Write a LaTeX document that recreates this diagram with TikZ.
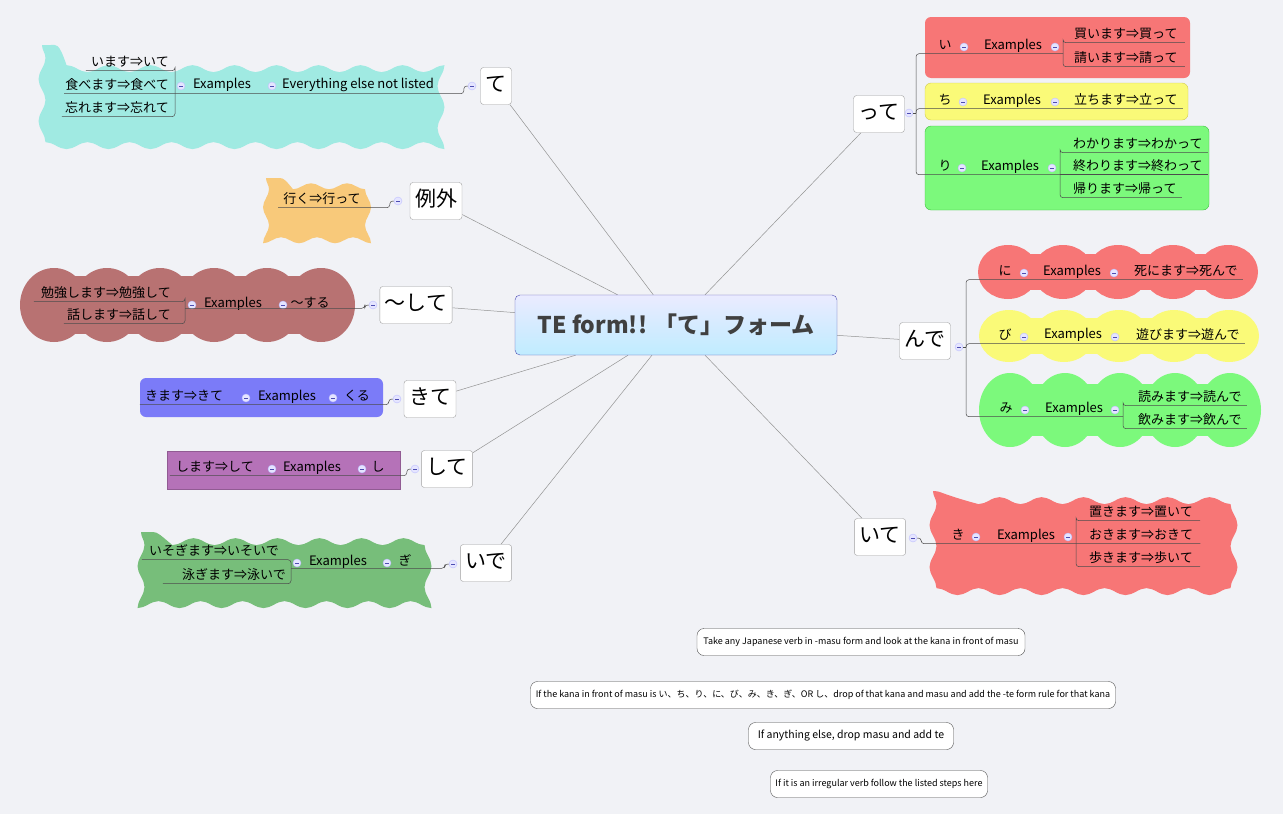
\documentclass[tikz,border=0pt]{standalone}
\usepackage{fontspec}
\setmainfont{Noto Sans CJK JP}
\usetikzlibrary{positioning,backgrounds,decorations.pathmorphing,calc}
\definecolor{pagebg}{RGB}{241,242,246}
\definecolor{cyanbg}{RGB}{160,234,226}
\definecolor{orangebg}{RGB}{248,201,122}
\definecolor{brownbg}{RGB}{184,114,114}
\definecolor{bluebg}{RGB}{123,123,248}
\definecolor{purplebg}{RGB}{181,114,184}
\definecolor{dgreenbg}{RGB}{119,190,122}
\definecolor{redbg}{RGB}{247,118,118}
\definecolor{yellowbg}{RGB}{250,250,120}
\definecolor{lgreenbg}{RGB}{124,249,124}
\tikzset{
  leaf/.style={font=\fontsize{13}{15}\selectfont, inner sep=1pt, text height=10pt, text depth=3pt},
  branch/.style={draw=gray!75, rounded corners=3pt, fill=white, font=\fontsize{21}{24}\selectfont,
    inner xsep=5pt, inner ysep=3pt, minimum height=37pt, text height=15pt, text depth=4pt},
  fold/.style={circle, draw=blue!25, fill=blue!10, minimum size=8pt, inner sep=0pt,
    path picture={\draw[blue!40!gray] ([xshift=-2pt]path picture bounding box.center) -- ([xshift=2pt]path picture bounding box.center);}},
  uline/.style={draw=gray!60!black, line width=0.5pt, rounded corners=3pt},
  spoke/.style={draw=gray!85, line width=0.5pt},
  note/.style={draw=gray!60!black, rounded corners=7pt, fill=white, minimum height=27pt, inner sep=3pt},
  wavy/.style={decorate, decoration={snake, segment length=42pt, amplitude=3.5pt}}
}
\begin{document}
\begin{tikzpicture}[x=1pt,y=-1pt]
\useasboundingbox (0,0) rectangle (1283,814);

% backgrounds of the topics
\fill[cyanbg, wavy] (42,45) rectangle (449,128);
\fill[orangebg, decorate, decoration={snake, segment length=36pt, amplitude=3pt}] (266,178) rectangle (380,226);
\fill[brownbg] (54,276) rectangle (321,334);
\foreach \cx in {54,107,160,214,267,321} \fill[brownbg] (\cx,305) ellipse (34 and 37);
\fill[bluebg, rounded corners=6pt] (140,378) rectangle (383,417);
\fill[purplebg, draw=purplebg!80!black] (167,451) rectangle (400,489);
\fill[dgreenbg, wavy] (141,532) rectangle (430,598);
\fill[redbg, rounded corners=6pt] (925,17) rectangle (1190,78);
\fill[yellowbg, draw=yellow!60!gray, rounded corners=6pt] (925,83) rectangle (1188,120);
\fill[lgreenbg, draw=green!50!gray, rounded corners=6pt] (925,126) rectangle (1209,210);
\fill[redbg] (1008,254) rectangle (1228,290);
\fill[yellowbg] (1009,318) rectangle (1230,354);
\fill[lgreenbg] (1010,384) rectangle (1232,436);
\foreach \cx in {1008,1063,1118,1173,1228} {
  \fill[redbg] (\cx,272) ellipse (30 and 27);
  \fill[yellowbg] ([xshift=1pt]\cx,336) ellipse (30 and 26);
  \fill[lgreenbg] ([xshift=2pt]\cx,410) ellipse (31 and 37);
}
\fill[redbg, wavy] (933,491) rectangle (1212,583);

% centre and branches
\node[draw=blue!40!gray, rounded corners=5pt, top color=blue!8, bottom color=blue!30!cyan!25,
  minimum width=322pt, minimum height=60pt, font=\fontsize{23}{26}\selectfont\bfseries,
  text=black!75] (centre) at (676,325) {TE form!! 「て」フォーム};
\node[branch] (te) at (496,86) {て};
\node[branch] (reigai) at (436,201) {例外};
\node[branch] (shite1) at (416,305) {～して};
\node[branch] (kite) at (430,399) {きて};
\node[branch] (shite2) at (447,469) {して};
\node[branch] (ide) at (486,563) {いで};
\node[branch] (tte) at (879,114) {って};
\node[branch] (nde) at (925,341) {んで};
\node[branch] (ite) at (880,537) {いて};

\begin{scope}[on background layer]
  \fill[pagebg] (0,0) rectangle (1283,814);
  \foreach \b in {te,reigai,shite1,kite,shite2,ide,tte,nde,ite}
    \draw[spoke] (centre) -- (\b);
\end{scope}

% て
\node[fold] (teF) at (472,86) {};
\node[leaf] (teRule) at (358,85) {Everything else not listed};
\node[fold] (teF1) at (272,86) {};
\node[leaf] (teEx) at (222,85) {Examples};
\node[fold] (teF2) at (181,86) {};
\node[leaf, anchor=east] (teA) at (170,63) {います⇒いて};
\node[leaf, anchor=east] (teB) at (170,86) {食べます⇒食べて};
\node[leaf, anchor=east] (teC) at (170,109) {忘れます⇒忘れて};
\draw[uline] (teF.west) -- ++(-4,0) |- (teB.south west);
\draw[uline] ([xshift=-4pt]teA.south west) -| ([xshift=5pt]teA.south east) |- ([xshift=-2pt]teC.south west);

% 例外
\node[fold] (reigaiF) at (398,201) {};
\node[leaf] (iku) at (322,200) {行く⇒行って};
\draw[uline] (reigaiF.west) -- ++(-4,0) |- ([xshift=-4pt]iku.south west);

% ～して
\node[fold] (shite1F) at (373,305) {};
\node[leaf] (suru) at (310,304) {～する};
\node[fold] (shite1F1) at (283,305) {};
\node[leaf] (shite1Ex) at (233,304) {Examples};
\node[fold] (shite1F2) at (192,305) {};
\node[leaf, anchor=east] (shite1A) at (172,294) {勉強します⇒勉強して};
\node[leaf, anchor=east] (shite1B) at (172,316) {話します⇒話して};
\draw[uline] (shite1F.west) -- ++(-4,0) |- ([xshift=13pt]shite1B.north east);
\draw[uline] ([xshift=-6pt]shite1A.south west) -| ([xshift=13pt]shite1A.south east) |- ([xshift=-2pt]shite1B.south west);

% きて
\node[fold] (kiteF) at (397,399) {};
\node[leaf] (kuru) at (357,397) {くる};
\node[fold] (kiteF1) at (333,398) {};
\node[leaf] (kiteEx) at (287,397) {Examples};
\node[fold] (kiteF2) at (246,398) {};
\node[leaf] (kimasu) at (184,397) {きます⇒きて};
\draw[uline] (kiteF.west) -- ++(-4,0) |- ([xshift=-4pt]kimasu.south west);

% して
\node[fold] (shite2F) at (415,469) {};
\node[leaf] (shi) at (378,468) {し};
\node[fold] (shite2F1) at (362,469) {};
\node[leaf] (shite2Ex) at (312,468) {Examples};
\node[fold] (shite2F2) at (272,469) {};
\node[leaf] (shimasu) at (215,468) {します⇒して};
\draw[uline] (shite2F.west) -- ++(-4,0) |- ([xshift=-5pt]shimasu.south west);

% いで
\node[fold] (ideF) at (453,564) {};
\node[leaf] (gi) at (405,562) {ぎ};
\node[fold] (ideF1) at (387,563) {};
\node[leaf] (ideEx) at (338,562) {Examples};
\node[fold] (ideF2) at (297,563) {};
\node[leaf, anchor=east] (ideA) at (280,552) {いそぎます⇒いそいで};
\node[leaf, anchor=east] (ideB) at (287,576) {泳ぎます⇒泳いで};
\draw[uline] (ideF.west) -- ++(-4,0) |- ([xshift=4pt]ideB.north east);
\draw[uline] ([xshift=-6pt]ideA.south west) -| ([xshift=4pt]ideB.south east) -- ([xshift=-18pt]ideB.south west);

% って
\node[fold] (tteF) at (909,113) {};
\coordinate (tteB) at (916,113);
\node[leaf] (tteI) at (945,46) {い};
\node[fold] at (964,47) {};
\node[leaf] (tteIEx) at (1013,46) {Examples};
\node[fold] at (1055,47) {};
\node[leaf, anchor=west] (tteIa) at (1073,35) {買います⇒買って};
\node[leaf, anchor=west] (tteIb) at (1073,59) {請います⇒請って};
\node[leaf] (tteC) at (945,101) {ち};
\node[fold] at (963,102) {};
\node[leaf] (tteCEx) at (1012,101) {Examples};
\node[fold] at (1055,102) {};
\node[leaf, anchor=west] (tteCa) at (1073,101) {立ちます⇒立って};
\node[leaf] (tteR) at (945,167) {り};
\node[fold] at (962,168) {};
\node[leaf] (tteREx) at (1010,167) {Examples};
\node[fold] at (1052,168) {};
\node[leaf, anchor=west] (tteRa) at (1072,145) {わかります⇒わかって};
\node[leaf, anchor=west] (tteRb) at (1072,167) {終わります⇒終わって};
\node[leaf, anchor=west] (tteRc) at (1072,190) {帰ります⇒帰って};
\draw[uline] (tteF.east) -- (tteB);
\draw[uline] (tteB) |- ([xshift=-10pt]tteIa.west |- tteIEx.south);
\draw[uline] (tteB) |- ([xshift=4pt]tteCa.south east);
\draw[uline] (tteB) |- ([xshift=-12pt]tteRa.west |- tteREx.south);
\draw[uline] ([xshift=6pt]tteIa.south east) -| ([xshift=-10pt]tteIa.south west) |- ([xshift=6pt]tteIb.south east);
\draw[uline] ([xshift=4pt]tteRa.south east) -| ([xshift=-12pt]tteRa.south west) |- ([xshift=4pt]tteRc.south east);
\draw[uline] ([xshift=-12pt]tteRb.south west) -- ([xshift=4pt]tteRb.south east);

% んで
\node[fold] (ndeF) at (959,347) {};
\coordinate (ndeB) at (966,347);
\node[leaf] (ndeN) at (1005,272) {に};
\node[fold] at (1024,273) {};
\node[leaf] (ndeNEx) at (1072,272) {Examples};
\node[fold] at (1114,273) {};
\node[leaf, anchor=west] (ndeNa) at (1133,272) {死にます⇒死んで};
\node[leaf] (ndeB2) at (1005,336) {び};
\node[fold] at (1024,337) {};
\node[leaf] (ndeBEx) at (1073,335) {Examples};
\node[fold] at (1115,337) {};
\node[leaf, anchor=west] (ndeBa) at (1135,336) {遊びます⇒遊んで};
\node[leaf] (ndeM) at (1006,409) {み};
\node[fold] at (1025,410) {};
\node[leaf] (ndeMEx) at (1074,409) {Examples};
\node[fold] at (1115,410) {};
\node[leaf, anchor=west] (ndeMa) at (1137,398) {読みます⇒読んで};
\node[leaf, anchor=west] (ndeMb) at (1137,421) {飲みます⇒飲んで};
\draw[uline] (ndeF.east) -- (ndeB);
\draw[uline] (ndeB) |- ([xshift=4pt]ndeNa.south east);
\draw[uline] (ndeB) |- ([xshift=4pt]ndeBa.south east);
\draw[uline] (ndeB) |- ([xshift=-14pt]ndeMa.west |- ndeMEx.south);
\draw[uline] ([xshift=4pt]ndeMa.south east) -| ([xshift=-14pt]ndeMa.south west) |- ([xshift=4pt]ndeMb.south east);

% いて
\node[fold] (iteF) at (913,538) {};
\node[leaf] (iteK) at (958,536) {き};
\node[fold] at (976,537) {};
\node[leaf] (iteEx) at (1026,536) {Examples};
\node[fold] at (1068,537) {};
\node[leaf, anchor=west] (iteA) at (1088,513) {置きます⇒置いて};
\node[leaf, anchor=west] (iteB) at (1088,536) {おきます⇒おきて};
\node[leaf, anchor=west] (iteC) at (1088,559) {歩きます⇒歩いて};
\draw[uline] (iteF.east) -- ++(4,0) |- ([xshift=6pt]iteB.south east);
\draw[uline] ([xshift=6pt]iteA.south east) -| ([xshift=-12pt]iteA.south west) |- ([xshift=6pt]iteC.south east);

% notes
\node[note, minimum width=328pt, font=\fontsize{9}{11}\selectfont] (step1) at (861,642)
  {Take any Japanese verb in -masu form and look at the kana in front of masu};
\node[note, minimum width=585pt, font=\fontsize{9}{11}\selectfont] (step2) at (823,695)
  {If the kana in front of masu is い、ち、り、に、び、み、き、ぎ、OR し、drop of that kana and masu and add the -te form rule for that kana};
\node[note, minimum width=205pt, font=\fontsize{10.5}{12}\selectfont] (step3) at (851,736)
  {If anything else, drop masu and add te};
\node[note, minimum width=217pt, font=\fontsize{9}{11}\selectfont] (step4) at (879,784)
  {If it is an irregular verb follow the listed steps here};
\end{tikzpicture}
\end{document}
